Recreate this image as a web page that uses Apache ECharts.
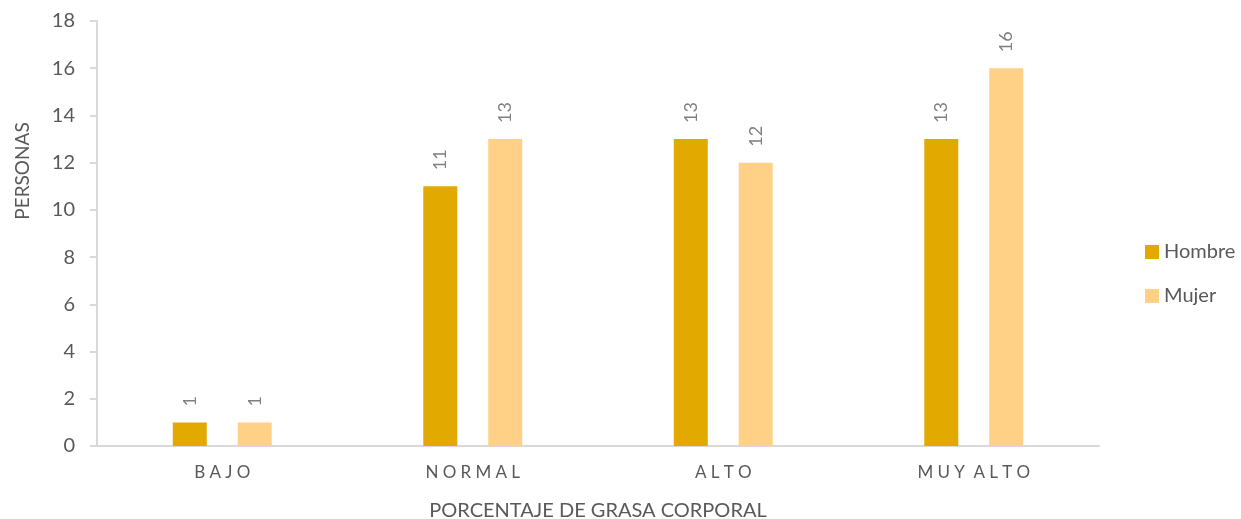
<!DOCTYPE html>
<html>
<head>
<meta charset="utf-8">
<script src="https://cdn.jsdelivr.net/npm/echarts@6/dist/echarts.min.js"></script>
<style>
  html, body { margin: 0; padding: 0; background: #fff; }
  #chart { width: 1241px; height: 519px; }
</style>
</head>
<body>
<div id="chart"></div>
<script>
// Body-fat categories and number of people per sex
const categories = ['BAJO', 'NORMAL', 'ALTO', 'MUY ALTO'];
const hombre = [1, 11, 13, 13];
const mujer = [1, 13, 12, 16];
const seriesNames = ['Hombre', 'Mujer'];
const yTicks = { min: 0, max: 18, interval: 2 };

const FONT = 'Lato, "Open Sans", sans-serif';

// spaced-out capitals for the category labels (word gaps kept as one space)
const spaced = s => s.split(' ').map(w => w.split('').join('\u2005')).join('\u2005 ');

const chart = echarts.init(document.getElementById('chart'), null, { renderer: 'canvas' });

const dataLabel = {
  show: true,
  position: 'top',
  rotate: 90,
  align: 'left',
  verticalAlign: 'middle',
  distance: 16,
  color: '#7f7f7f',
  fontFamily: FONT,
  fontSize: 18
};

chart.setOption({
  animation: false,
  textStyle: { fontFamily: FONT },
  grid: { left: 97, right: 142, top: 21, bottom: 73, containLabel: false, outerBoundsMode: 'none' },
  legend: {
    orient: 'vertical',
    left: 1140,
    top: 236,
    itemWidth: 14,
    itemHeight: 14,
    itemGap: 22,
    itemStyle: { borderWidth: 0 },
    icon: 'rect',
    textStyle: { color: '#595959', fontSize: 20, fontFamily: FONT, lineHeight: 22 },
    data: seriesNames
  },
  xAxis: {
    type: 'category',
    data: categories,
    name: 'PORCENTAJE DE GRASA CORPORAL',
    nameLocation: 'middle',
    nameGap: 55,
    nameTextStyle: { color: '#595959', fontSize: 20, fontFamily: FONT },
    axisLine: { show: true, lineStyle: { color: '#d9d9d9', width: 2 } },
    axisTick: { show: false },
    axisLabel: {
      color: '#595959', fontSize: 17, fontFamily: FONT, margin: 18,
      formatter: v => spaced(v)
    },
    splitLine: { show: false }
  },
  yAxis: {
    type: 'value',
    min: yTicks.min,
    max: yTicks.max,
    interval: yTicks.interval,
    axisLine: { show: true, lineStyle: { color: '#d9d9d9', width: 2 } },
    axisTick: { show: true, inside: false, length: 7, lineStyle: { color: '#d9d9d9', width: 2 } },
    axisLabel: { color: '#595959', fontSize: 20, fontFamily: FONT, margin: 22 },
    splitLine: { show: false }
  },
  graphic: [{
    type: 'text',
    x: 23,
    y: 171,
    rotation: Math.PI / 2,
    style: {
      text: 'PERSONAS',
      fill: '#595959',
      font: '19px ' + FONT,
      textAlign: 'center',
      textVerticalAlign: 'middle'
    }
  }],
  series: [
    {
      name: seriesNames[0],
      type: 'bar',
      data: hombre,
      barWidth: 34,
      barGap: '91%',
      itemStyle: { color: '#e2aa00' },
      label: dataLabel
    },
    {
      name: seriesNames[1],
      type: 'bar',
      data: mujer,
      barWidth: 34,
      barGap: '91%',
      itemStyle: { color: '#ffd187' },
      label: dataLabel
    }
  ]
});
</script>
</body>
</html>
